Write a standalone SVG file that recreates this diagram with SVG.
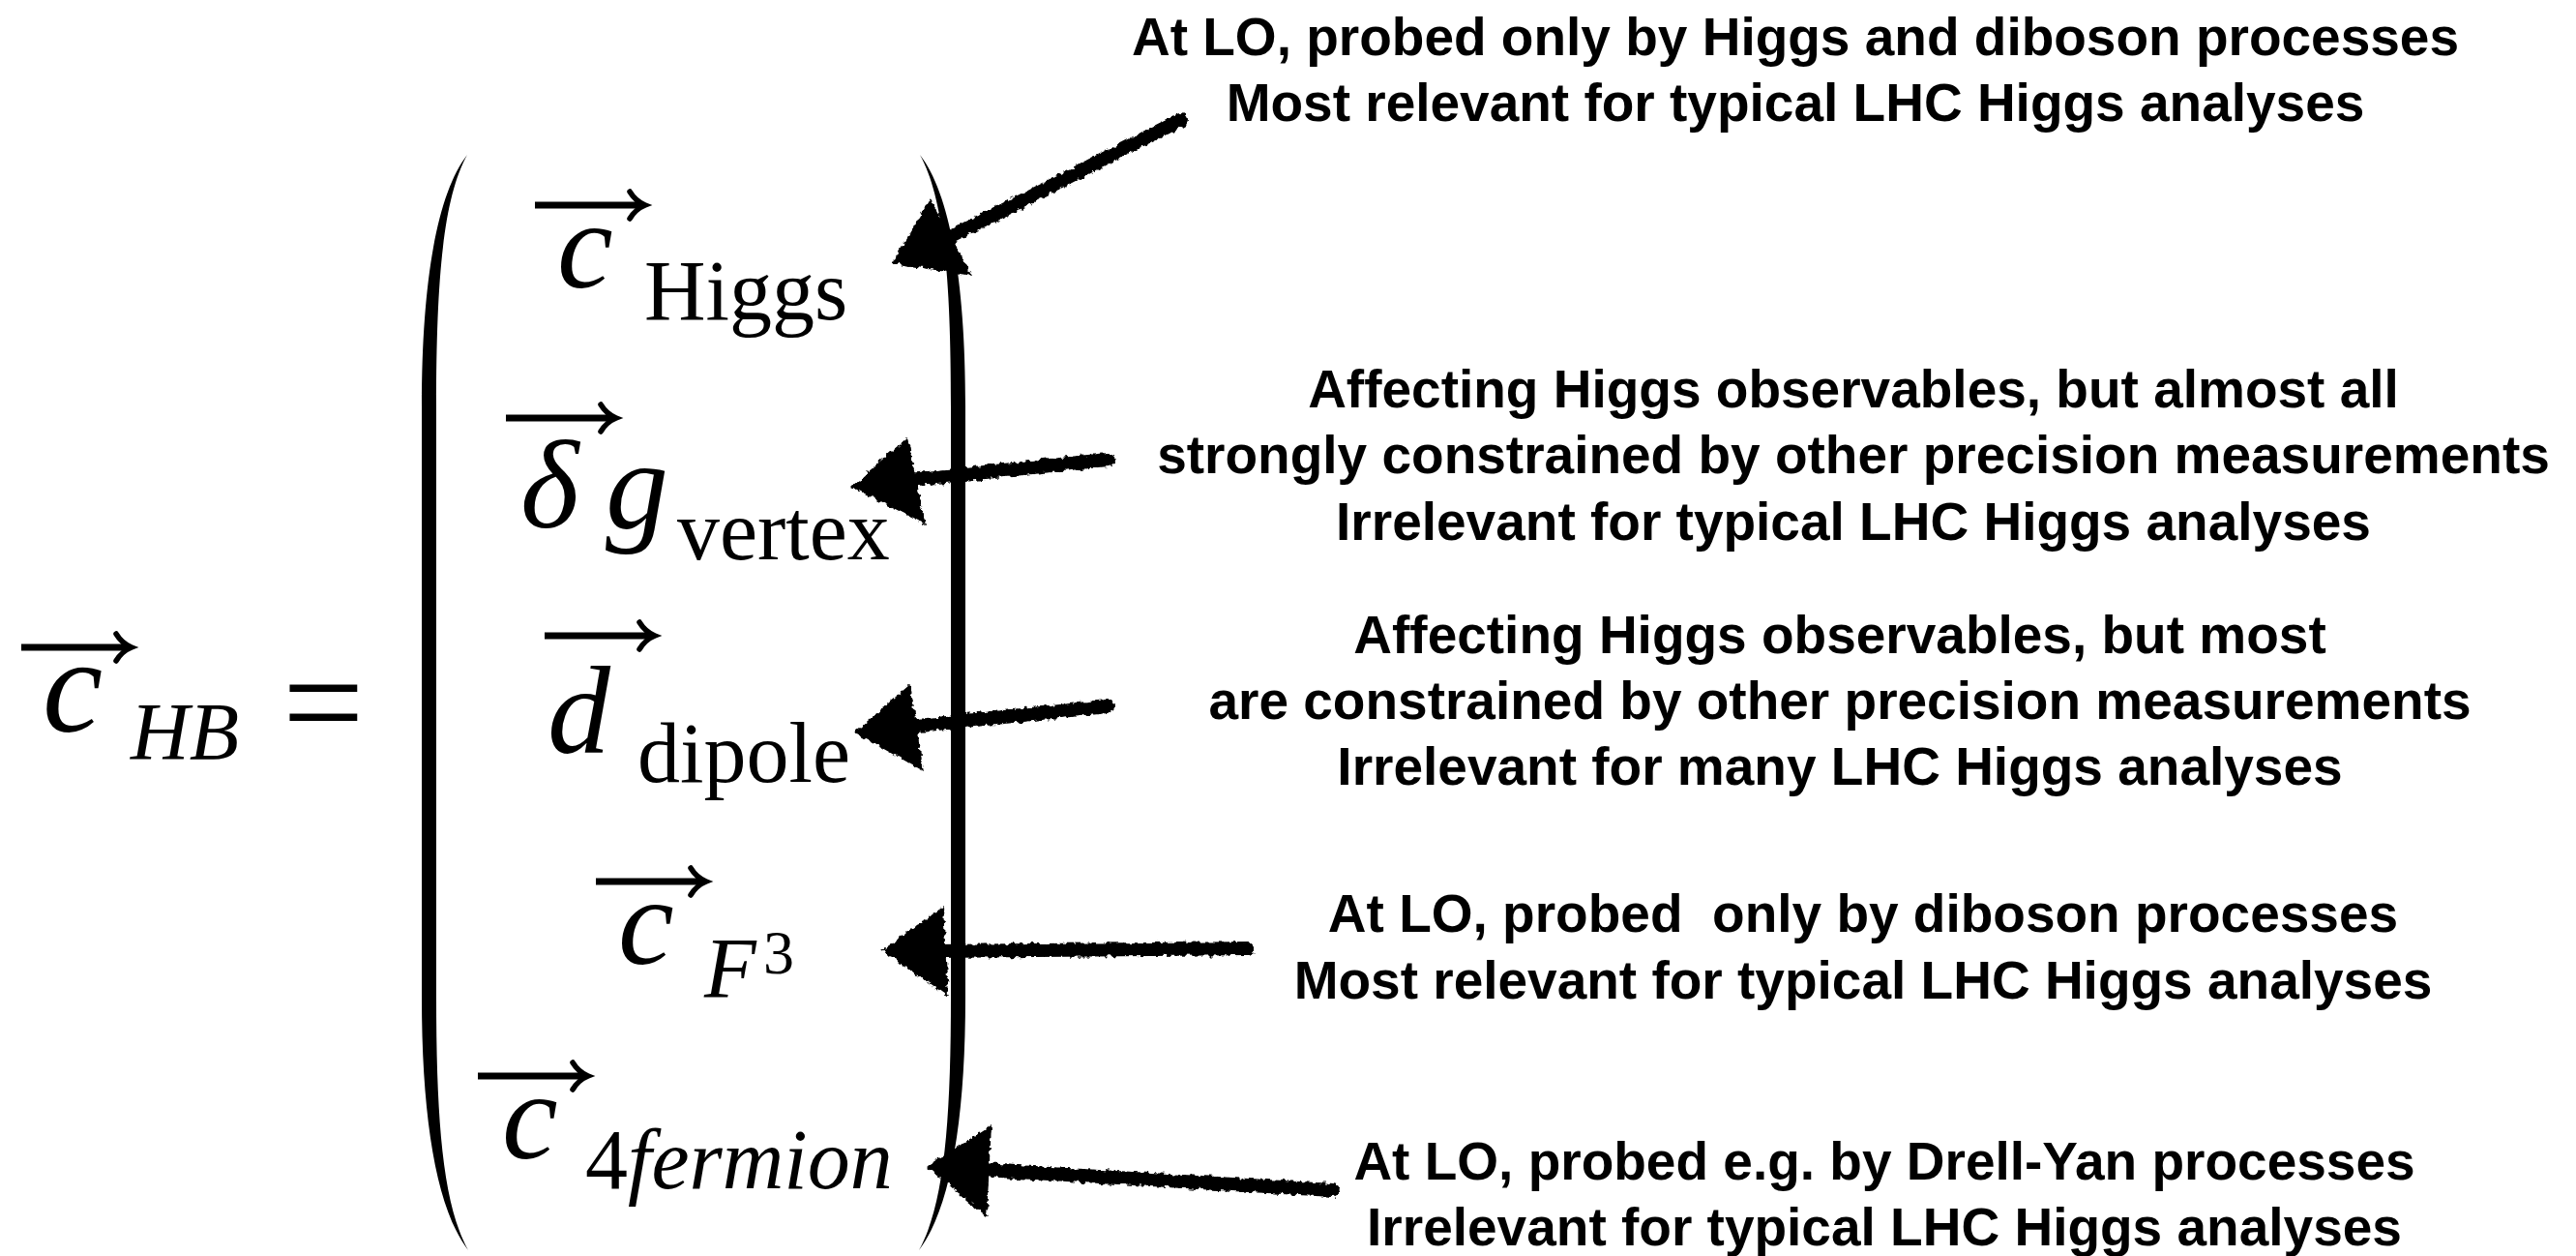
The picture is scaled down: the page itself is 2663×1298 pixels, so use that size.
<svg xmlns="http://www.w3.org/2000/svg" width="2663" height="1298" viewBox="0 0 2663 1298">
<style>
.lbl{font-family:"Liberation Sans",Arial,sans-serif;font-weight:bold;font-size:55px;fill:#000;text-anchor:middle}
.m{font-family:"Liberation Serif","Times New Roman",serif;fill:#000}
.it{font-style:italic}
.big{font-size:130px}
.sub{font-size:88px}
.vec{fill:none;stroke:#000;stroke-width:7}
.vh{fill:none;stroke:#000;stroke-width:5.5;stroke-linecap:round}
.shaft{fill:none;stroke:#000;stroke-width:14;stroke-linecap:round}
.head{fill:#000}
</style>
<defs>
<filter id="chalk" x="-5%" y="-5%" width="110%" height="110%">
<feTurbulence type="fractalNoise" baseFrequency="0.18" numOctaves="2" seed="4" result="n"/>
<feDisplacementMap in="SourceGraphic" in2="n" scale="7" xChannelSelector="R" yChannelSelector="G"/>
</filter>
<g id="va">
<path class="vec" d="M0,0 H110"/>
<path class="vh" d="M98,-14 Q104,-4 114,0 Q104,4 98,14"/>
</g>
</defs>
<rect width="2663" height="1298" fill="#fff"/>

<g id="lhs">
<use href="#va" x="22" y="669"/>
<text class="m it" font-size="140" x="44" y="756">c</text>
<text class="m it" font-size="84" x="135" y="785">HB</text>
<text class="m" font-size="150" x="292" y="776">=</text>
</g>

<g id="parens">
<path d="M483,160 C452,200 436,290 436,420 L436,1030 C436,1160 452,1250 484,1292 C458,1245 451,1160 451,1030 L451,420 C451,290 458,205 483,160 Z" fill="#000"/>
<path d="M951,160 C982,200 998,290 998,420 L998,1030 C998,1160 982,1250 950,1292 C976,1245 983,1160 983,1030 L983,420 C983,290 976,205 951,160 Z" fill="#000"/>
</g>

<g id="c-higgs">
<use href="#va" x="553" y="212"/>
<text class="m it big" x="576" y="297">c</text>
<text class="m sub" x="666" y="330">Higgs</text>
</g>

<g id="dg-vertex">
<use href="#va" x="523" y="432"/>
<text class="m it big" x="538" y="545">δ</text>
<text class="m it big" x="626" y="545">g</text>
<text class="m sub" x="700" y="578">vertex</text>
</g>

<g id="d-dipole">
<use href="#va" x="563" y="657"/>
<text class="m it big" x="566" y="778">d</text>
<text class="m sub" x="659" y="808">dipole</text>
</g>

<g id="c-f3">
<use href="#va" x="616" y="911"/>
<text class="m it big" x="639" y="996">c</text>
<text class="m it sub" x="728" y="1030">F</text>
<text class="m" font-size="64" x="789" y="1006">3</text>
</g>

<g id="c-4fermion">
<use href="#va" x="494" y="1112"/>
<text class="m it big" x="519" y="1197">c</text>
<text class="m sub" x="605" y="1228">4<tspan class="it">fermion</tspan></text>
</g>

<g id="note-higgs">
<text class="lbl" x="1856" y="57">At LO, probed only by Higgs and diboson processes</text>
<text class="lbl" x="1856" y="125">Most relevant for typical LHC Higgs analyses</text>
</g>
<g id="note-vertex">
<text class="lbl" x="1916" y="421">Affecting Higgs observables, but almost all</text>
<text class="lbl" x="1916" y="489">strongly constrained by other precision measurements</text>
<text class="lbl" x="1916" y="558">Irrelevant for typical LHC Higgs analyses</text>
</g>
<g id="note-dipole">
<text class="lbl" x="1902" y="675">Affecting Higgs observables, but most</text>
<text class="lbl" x="1902" y="743">are constrained by other precision measurements</text>
<text class="lbl" x="1902" y="811">Irrelevant for many LHC Higgs analyses</text>
</g>
<g id="note-f3">
<text class="lbl" x="1926" y="963" xml:space="preserve">At LO, probed  only by diboson processes</text>
<text class="lbl" x="1926" y="1032">Most relevant for typical LHC Higgs analyses</text>
</g>
<g id="note-4fermion">
<text class="lbl" x="1948" y="1219">At LO, probed e.g. by Drell-Yan processes</text>
<text class="lbl" x="1948" y="1287">Irrelevant for typical LHC Higgs analyses</text>
</g>

<g id="connectors" filter="url(#chalk)">
<path class="shaft" d="M1220,124 L965,254"/>
<path class="head" d="M922,272 L962,205 L1005,285 Z"/>
<path class="shaft" d="M1145,475 L930,497"/>
<path class="head" d="M880,503 L938,452 L957,542 Z"/>
<path class="shaft" d="M1145,730 L930,752"/>
<path class="head" d="M883,757 L940,708 L955,797 Z"/>
<path class="shaft" d="M1290,980 L960,983"/>
<path class="head" d="M912,982 L975,937 L980,1030 Z"/>
<path class="shaft" d="M1378,1230 L1000,1208"/>
<path class="head" d="M958,1205 L1025,1163 L1020,1258 Z"/>
</g>
</svg>
